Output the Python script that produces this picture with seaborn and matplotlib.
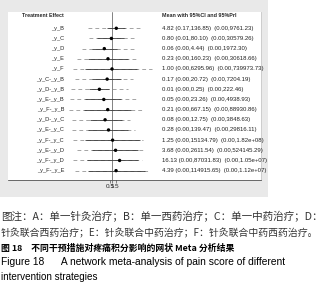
import numpy as np
import pandas as pd
import seaborn as sns
import matplotlib.pyplot as plt
import matplotlib.transforms as mtrans
from matplotlib.patches import Rectangle
from matplotlib.ticker import NullLocator

# comparisons, top to bottom
labels = ["_y_B", "_y_C", "_y_D", "_y_E", "_y_F",
          "_y_C-_y_B", "_y_D-_y_B", "_y_E-_y_B", "_y_F-_y_B",
          "_y_D-_y_C", "_y_E-_y_C", "_y_F-_y_C",
          "_y_E-_y_D", "_y_F-_y_D", "_y_F-_y_E"]

# effect (mean) and interval ends
mean = [4.82, 0.80, 0.06, 0.23, 1.00, 0.17, 0.01, 0.05, 0.21, 0.08, 0.28, 1.25, 3.68, 16.13, 4.39]
ci_lo = [0.15, 0.0047, 6e-4, 1.7e-4, 5e-5, 7.5e-4, 2.5e-4, 5e-5, 3.6e-5, 3.2e-4, 1.7e-4, 5e-5, 6e-4, 1e-4, 1.7e-4]
ci_hi = [115, 80, 5.6, 390, 1e4, 27, 0.37, 24, 930, 35, 390, 2.8e4, 1.5e4, 1.5e4, 1.7e5]
pri_lo = [1.7e-4, 2.5e-4, 1.6e-5, 2.5e-6, 7e-7, 1.3e-6, 2.8e-7, 2e-7, 1.7e-7, 4e-7, 4e-7, 6e-7, 2.5e-6, 7e-7, 1.3e-6]
pri_hi = [9e4, 3e3, 3e3, 1.5e4, 2e6, 2.4e3, 390, 1.5e4, 7.4e4, 720, 4.5e3, 9e4, 1.7e5, 5e4, 5.8e5]

# printed column at right
value_txt = ["4.82 (0.17,136.85)  (0.00,9761.23)",
             "0.80 (0.01,80.10)  (0.00,30579.26)",
             "0.06 (0.00,4.44)  (0.00,1972.30)",
             "0.23 (0.00,160.23)  (0.00,30618.66)",
             "1.00 (0.00,6295.96)  (0.00,739973.73)",
             "0.17 (0.00,20.72)  (0.00,7204.19)",
             "0.01 (0.00,0.25)  (0.00,222.46)",
             "0.05 (0.00,23.26)  (0.00,4938.93)",
             "0.21 (0.00,667.15)  (0.00,88930.86)",
             "0.08 (0.00,12.75)  (0.00,3848.63)",
             "0.28 (0.00,139.47)  (0.00,29816.11)",
             "1.25 (0.00,15134.79)  (0.00,1.82e+08)",
             "3.68 (0.00,2611.54)  (0.00,524145.29)",
             "16.13 (0.00,87031.83)  (0.00,1.05e+07)",
             "4.39 (0.00,114915.65)  (0.00,1.12e+07)"]

ticks = [0.5, 1, 5]
tick_labels = ["0.5", "1", "5"]

caption = ["图注：A：单一针灸治疗；B：单一西药治疗；C：单一中药治疗；D：",
           "针灸联合西药治疗；E：针灸联合中药治疗；F：针灸联合中药西药治疗。",
           "图 18　不同干预措施对疼痛积分影响的网状 Meta 分析结果",
           "Figure 18      A network meta-analysis of pain score of different",
           "intervention strategies"]

df = pd.DataFrame({"label": labels, "mean": mean, "ci_lo": ci_lo, "ci_hi": ci_hi,
                   "pri_lo": pri_lo, "pri_hi": pri_hi})
df["row"] = np.arange(len(df))

sns.set_style("white")
plt.rcParams['font.family'] = ['Liberation Sans', 'DejaVu Sans']

W, H = 322, 284
fig = plt.figure(figsize=(W / 100, H / 100), dpi=100)
fig.patches.append(Rectangle((0, 1 - 197 / H), 268 / W, 197 / H, transform=fig.transFigure,
                             facecolor='#e9e9e9', edgecolor='none', zorder=-5))
ax = fig.add_axes([8 / W, 1 - 180 / H, 253 / W, 168 / H])
ax.set_zorder(2)
ax.set_facecolor('white')

# log axis: 1 sits at pixel 112, ~6.3 px per decade
ax.set_xscale('log')
ax.set_xlim(10 ** ((8 - 112) / 6.3), 10 ** ((261 - 112) / 6.3))
ax.set_ylim(14.92, -1.6)

ax.axvline(1, color='#6e6e6e', lw=0.6, zorder=1)
ax.hlines(df["row"], df["pri_lo"], df["pri_hi"], color='#8c8c8c', lw=0.55,
          linestyles=(0, (5, 4)), zorder=2)
ax.hlines(df["row"], df["ci_lo"], df["ci_hi"], color='#3c3c3c', lw=0.6, zorder=2)
sns.scatterplot(data=df, x="mean", y="row", color='black', s=6, edgecolor='none',
                ax=ax, zorder=3, legend=False)
ax.set_xlabel("")
ax.set_ylabel("")

ax.set_xticks(ticks)
ax.set_xticklabels(tick_labels, fontsize=4.6)
ax.xaxis.set_minor_locator(NullLocator())
ax.set_yticks([])
ax.tick_params(axis='x', bottom=True, length=2, width=0.4, pad=1.2, color='#333')

for s in ['left', 'top']:
    ax.spines[s].set_visible(False)
ax.spines['right'].set_color('#c8c8c8')
ax.spines['right'].set_linewidth(0.6)
ax.spines['bottom'].set_color('#333')
ax.spines['bottom'].set_linewidth(0.5)

trans = mtrans.blended_transform_factory(ax.transAxes, ax.transData)
x_lab = (64 - 8) / 253
x_val = (162 - 8) / 253
ax.text(x_lab, -1.21, "Treatment Effect", transform=trans, ha='right', va='center',
        fontsize=3.8, fontweight='bold')
ax.text(x_val, -1.21, "Mean with 95%CI and 95%PrI", transform=trans, ha='left', va='center',
        fontsize=3.9, fontweight='bold')
for i, row in df.iterrows():
    ax.text(x_lab, row["row"], row["label"], transform=trans, ha='right', va='center',
            fontsize=4.1, color='#222')
    ax.text(x_val, row["row"], value_txt[i], transform=trans, ha='left', va='center',
            fontsize=4.3, color='#222')

cjk = ['Noto Sans CJK SC', 'DejaVu Sans']
fig.text(0.002, 1 - 217 / H, caption[0], family=cjk, fontsize=7.6, color='#333', va='center')
fig.text(0.002, 1 - 233 / H, caption[1], family=cjk, fontsize=7.1, color='#333', va='center')
fig.text(0.002, 1 - 248 / H, caption[2], family=cjk, fontsize=6.4, fontweight='bold',
         color='black', va='center')
fig.text(0.002, 1 - 262 / H, caption[3], fontsize=7.4, color='black', va='center')
fig.text(0.002, 1 - 277 / H, caption[4], fontsize=7.1, color='black', va='center')

fig.savefig("out.png", dpi=100, facecolor='white')
